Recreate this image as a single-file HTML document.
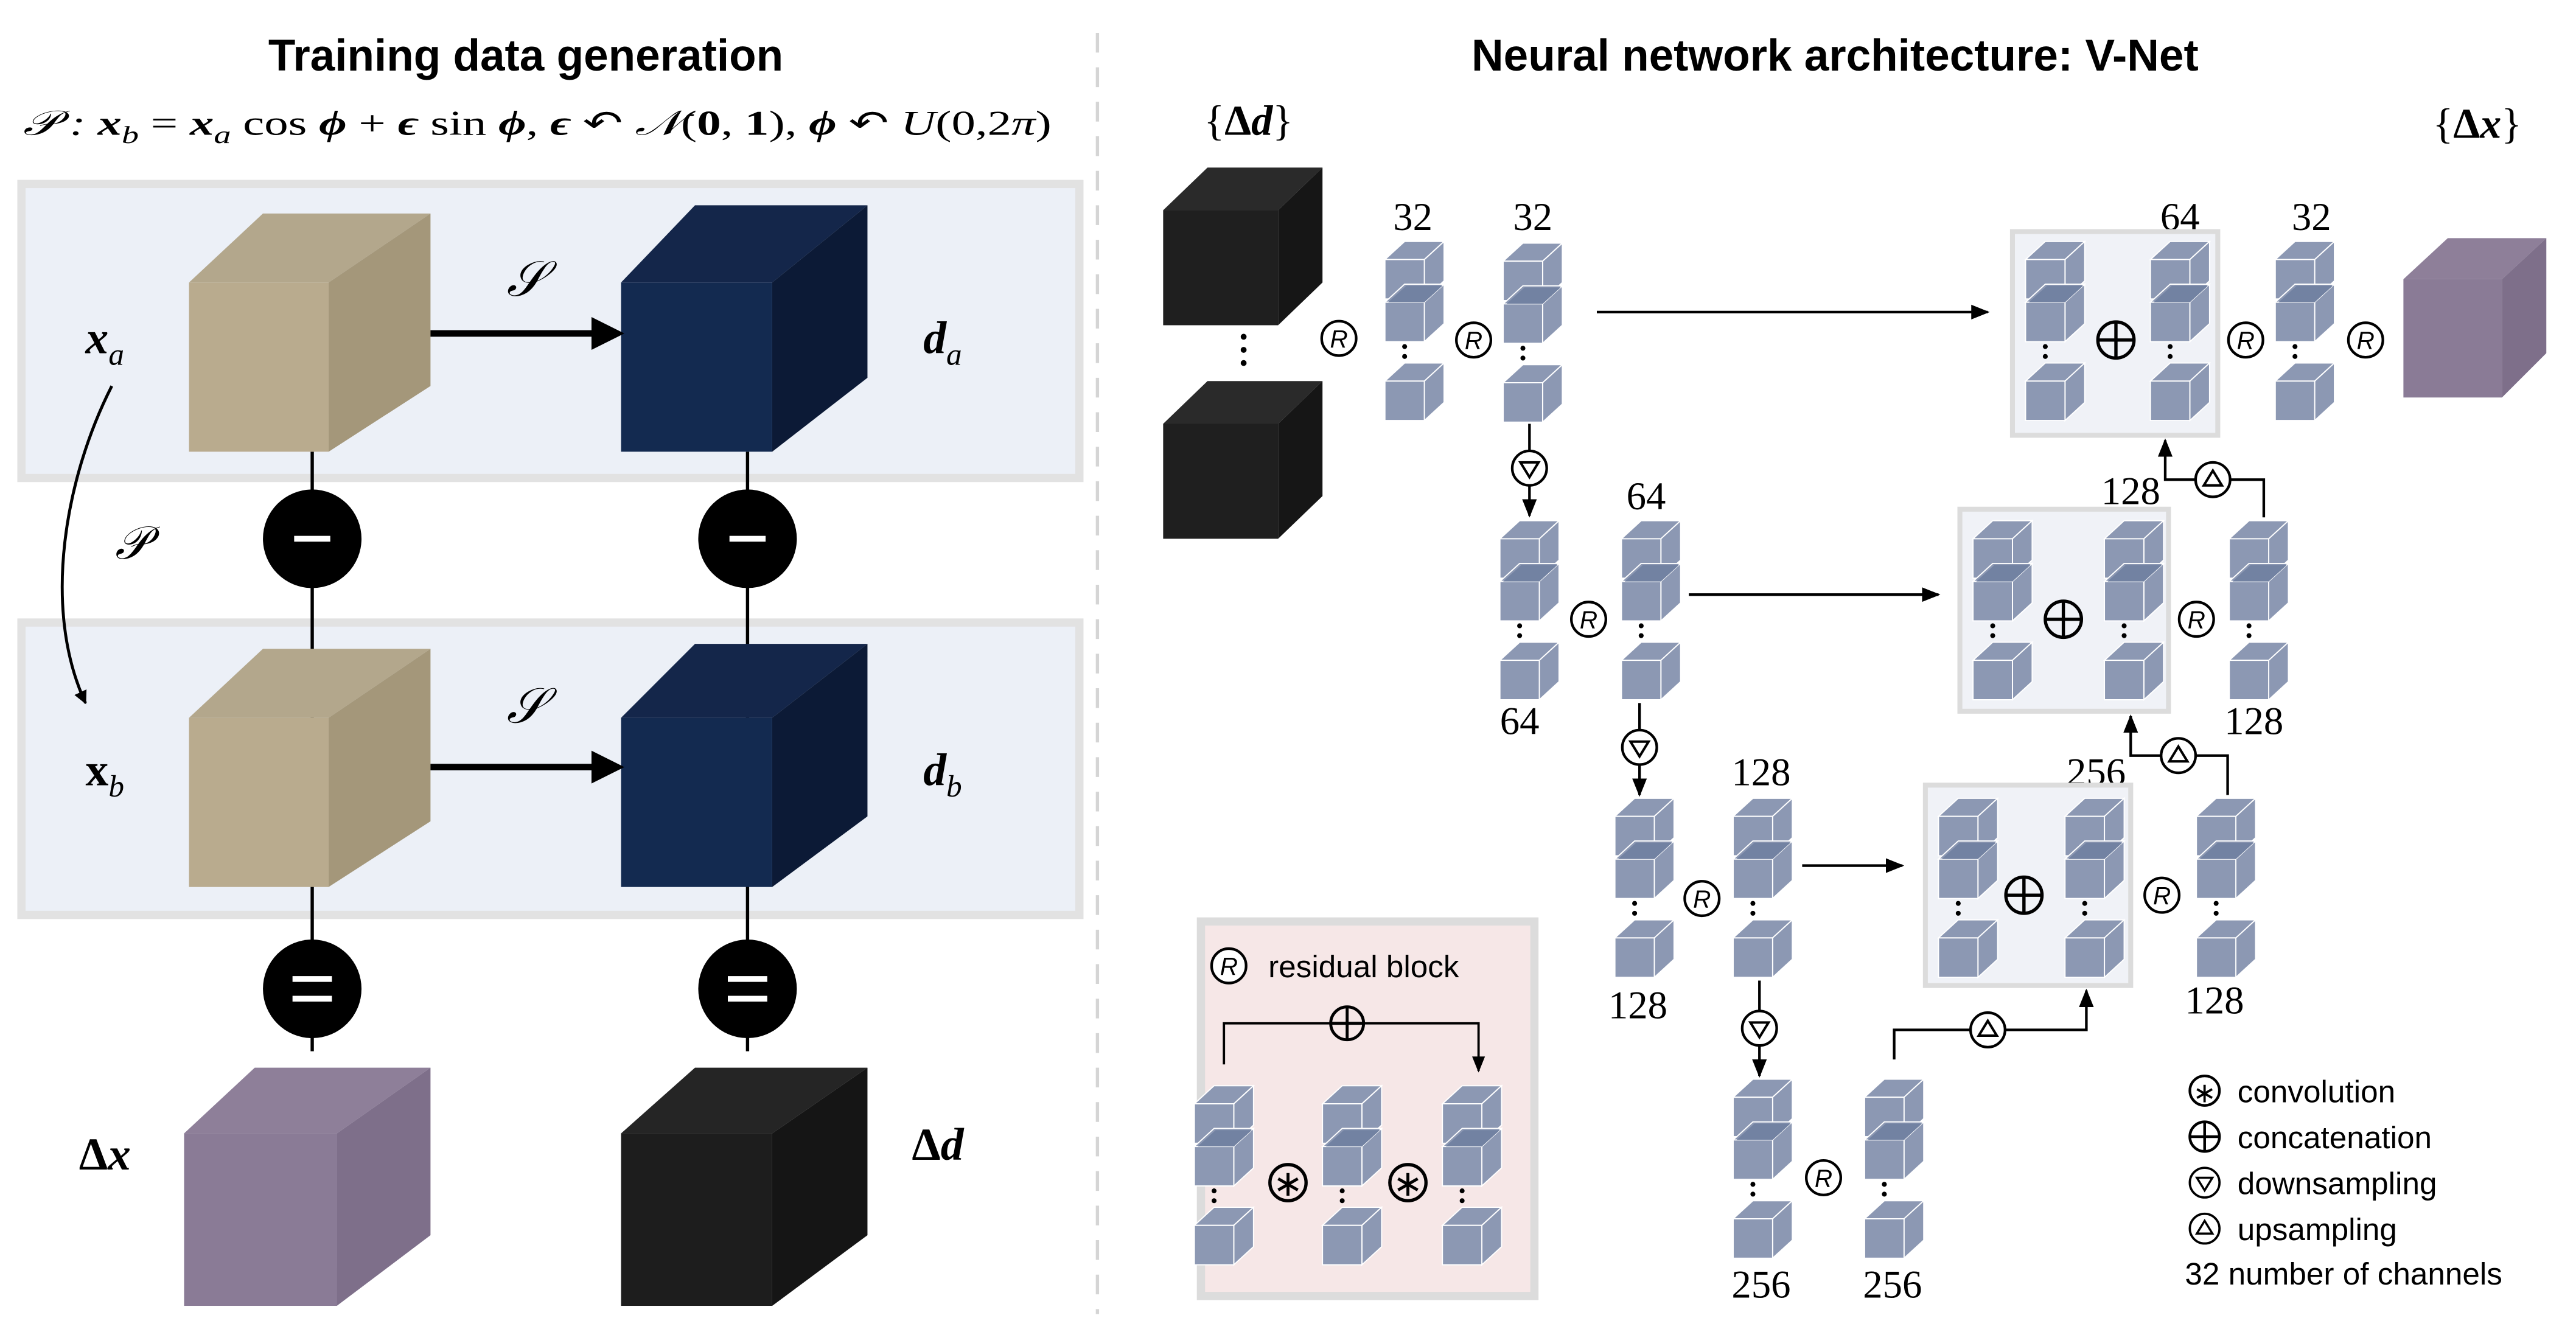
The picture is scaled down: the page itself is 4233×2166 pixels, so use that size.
<!DOCTYPE html>
<html><head><meta charset="utf-8"><style>
html,body{margin:0;padding:0;background:#fff}
svg{display:block}
</style></head><body>
<svg width="4233" height="2166" viewBox="0 0 1568 802.4" xmlns="http://www.w3.org/2000/svg">
<defs>
<g id="c">
<polygon points="0,0 12,-11 36,-11 24,0" fill="#8c98b3" stroke="#fff" stroke-width="0.7"/>
<polygon points="24,0 36,-11 36,13 24,24" fill="#8c98b3" stroke="#fff" stroke-width="0.7"/>
<rect x="0" y="0" width="24" height="24" fill="#8c98b3" stroke="#fff" stroke-width="0.7"/>
</g>
<g id="stk">
<use href="#c" x="0" y="0"/>
<use href="#c" x="0" y="26"/>
<polygon points="2,26 13,16 35,16 24,26" fill="#7282a2"/>
<circle cx="12" cy="53" r="1.5"/><circle cx="12" cy="59" r="1.5"/><circle cx="12" cy="65" r="1.5"/>
<use href="#c" x="0" y="74"/>
</g>
<g id="R"><circle r="10.5" fill="#fff" stroke="#000" stroke-width="1.6"/><text y="5.5" text-anchor="middle" font-family="Liberation Sans, sans-serif" font-style="italic" font-size="15">R</text></g>
<g id="dn"><circle r="10.5" fill="#fff" stroke="#000" stroke-width="1.6"/><polygon points="-5.5,-3.5 5.5,-3.5 0,5.5" fill="none" stroke="#000" stroke-width="1.5"/></g>
<g id="up"><circle r="10.5" fill="#fff" stroke="#000" stroke-width="1.6"/><polygon points="-5.5,3.5 5.5,3.5 0,-5.5" fill="none" stroke="#000" stroke-width="1.5"/></g>
<g id="plus"><circle r="11" fill="none" stroke="#000" stroke-width="2"/><line x1="-11" y1="0" x2="11" y2="0" stroke="#000" stroke-width="2"/><line x1="0" y1="-11" x2="0" y2="11" stroke="#000" stroke-width="2"/></g>
<marker id="ah" viewBox="0 0 10 10" refX="9" refY="5" markerWidth="7" markerHeight="7" orient="auto-start-reverse"><path d="M0,1 L10,5 L0,9 z" fill="#000"/></marker>
<marker id="ahb" viewBox="0 0 10 10" refX="9" refY="5" markerWidth="4.5" markerHeight="4.5" orient="auto"><path d="M0,0 L10,5 L0,10 z" fill="#000"/></marker>
</defs>

<!-- LEFT -->
<text x="320" y="43" text-anchor="middle" font-family="Liberation Sans, sans-serif" font-weight="bold" font-size="27">Training data generation</text>
<text x="14" y="82" font-family="Liberation Serif, serif" font-size="21" textLength="626" lengthAdjust="spacingAndGlyphs"><tspan font-style="italic">𝒫 : </tspan><tspan font-style="italic" font-weight="bold">x</tspan><tspan font-style="italic" font-size="15" dy="5">b</tspan><tspan dy="-5"> = </tspan><tspan font-style="italic" font-weight="bold">x</tspan><tspan font-style="italic" font-size="15" dy="5">a</tspan><tspan dy="-5"> cos </tspan><tspan font-style="italic" font-weight="bold">ϕ</tspan><tspan> + </tspan><tspan font-style="italic" font-weight="bold">ϵ</tspan><tspan> sin </tspan><tspan font-style="italic" font-weight="bold">ϕ</tspan><tspan>,  </tspan><tspan font-style="italic" font-weight="bold">ϵ</tspan><tspan> ↶ </tspan><tspan font-style="italic">𝒩</tspan><tspan>(</tspan><tspan font-weight="bold">0</tspan><tspan>, </tspan><tspan font-weight="bold">1</tspan><tspan>),  </tspan><tspan font-style="italic" font-weight="bold">ϕ</tspan><tspan> ↶ </tspan><tspan font-style="italic">U</tspan><tspan>(0,2</tspan><tspan font-style="italic">π</tspan><tspan>)</tspan></text>

<line x1="668" y1="20" x2="668" y2="800" stroke="#d5d5d5" stroke-width="2" stroke-dasharray="12,9"/>

<rect x="13" y="112" width="644" height="179" fill="#ecf0f7" stroke="#e2e2e2" stroke-width="5"/>
<rect x="13" y="379" width="644" height="178" fill="#ecf0f7" stroke="#e2e2e2" stroke-width="5"/>

<g stroke="#000" stroke-width="2">
<line x1="190" y1="275" x2="190" y2="640"/>
<line x1="455" y1="275" x2="455" y2="640"/>
</g>

<!-- cube xa -->
<g>
<polygon points="115,172 160,130 262,130 200,172" fill="#b3a78c"/>
<polygon points="200,172 262,130 262,235 200,275" fill="#a4977a"/>
<rect x="115" y="172" width="85" height="103" fill="#b9ab8e"/>
</g>
<g>
<polygon points="378,172 423,125 528,125 470,172" fill="#14264a"/>
<polygon points="470,172 528,125 528,230 470,275" fill="#0c1a36"/>
<rect x="378" y="172" width="92" height="103" fill="#132a50"/>
</g>
<line x1="262" y1="203" x2="362" y2="203" stroke="#000" stroke-width="4"/>
<polygon points="360,193 380,203 360,213" fill="#000"/>
<text x="320" y="180" text-anchor="middle" font-family="Liberation Serif, serif" font-style="italic" font-size="30">𝒮</text>
<text x="52" y="215" font-family="Liberation Serif, serif" font-style="italic" font-weight="bold" font-size="28">x<tspan font-size="19" dy="7" font-weight="normal">a</tspan></text>
<text x="562" y="215" font-family="Liberation Serif, serif" font-style="italic" font-weight="bold" font-size="28">d<tspan font-size="19" dy="7" font-weight="normal">a</tspan></text>

<path d="M68,235 C40,290 25,370 52,428" fill="none" stroke="#000" stroke-width="1.8" marker-end="url(#ahb)"/>
<text x="70" y="340" font-family="Liberation Serif, serif" font-style="italic" font-size="28">𝒫</text>

<!-- row b -->
<g>
<polygon points="115,437 160,395 262,395 200,437" fill="#b3a78c"/>
<polygon points="200,437 262,395 262,500 200,540" fill="#a4977a"/>
<rect x="115" y="437" width="85" height="103" fill="#b9ab8e"/>
</g>
<g>
<polygon points="378,437 423,392 528,392 470,437" fill="#14264a"/>
<polygon points="470,437 528,392 528,497 470,540" fill="#0c1a36"/>
<rect x="378" y="437" width="92" height="103" fill="#132a50"/>
</g>
<line x1="262" y1="467" x2="362" y2="467" stroke="#000" stroke-width="4"/>
<polygon points="360,457 380,467 360,477" fill="#000"/>
<text x="320" y="440" text-anchor="middle" font-family="Liberation Serif, serif" font-style="italic" font-size="30">𝒮</text>
<text x="52" y="478" font-family="Liberation Serif, serif" font-weight="bold" font-size="28">x<tspan font-size="19" dy="7" font-weight="normal" font-style="italic">b</tspan></text>
<text x="562" y="478" font-family="Liberation Serif, serif" font-style="italic" font-weight="bold" font-size="28">d<tspan font-size="19" dy="7" font-weight="normal">b</tspan></text>

<!-- operators -->
<g fill="#000"><circle cx="190" cy="328" r="30"/><circle cx="455" cy="328" r="30"/><circle cx="190" cy="602" r="30"/><circle cx="455" cy="602" r="30"/></g>
<g stroke="#fff" stroke-width="3.5">
<line x1="179" y1="328" x2="201" y2="328"/><line x1="444" y1="328" x2="466" y2="328"/>
<line x1="178" y1="596" x2="202" y2="596"/><line x1="178" y1="608" x2="202" y2="608"/>
<line x1="443" y1="596" x2="467" y2="596"/><line x1="443" y1="608" x2="467" y2="608"/>
</g>

<!-- bottom cubes -->
<g>
<polygon points="112,690 155,650 262,650 205,690" fill="#8e7f99"/>
<polygon points="205,690 262,650 262,752 205,795" fill="#7e6f8a"/>
<rect x="112" y="690" width="93" height="105" fill="#8a7b96"/>
</g>
<g>
<polygon points="378,690 423,650 528,650 470,690" fill="#252525"/>
<polygon points="470,690 528,650 528,752 470,795" fill="#151515"/>
<rect x="378" y="690" width="92" height="105" fill="#1d1d1d"/>
</g>
<text x="48" y="712" font-family="Liberation Serif, serif" font-weight="bold" font-size="28">Δ<tspan font-style="italic">x</tspan></text>
<text x="555" y="706" font-family="Liberation Serif, serif" font-weight="bold" font-size="28">Δ<tspan font-style="italic">d</tspan></text>

<!-- RIGHT -->
<text x="1117" y="43" text-anchor="middle" font-family="Liberation Sans, sans-serif" font-weight="bold" font-size="27">Neural network architecture: V-Net</text>
<text x="760" y="82" text-anchor="middle" font-family="Liberation Serif, serif" font-size="26">{<tspan font-weight="bold">Δ</tspan><tspan font-weight="bold" font-style="italic">d</tspan>}</text>
<text x="1508" y="84" text-anchor="middle" font-family="Liberation Serif, serif" font-size="26">{<tspan font-weight="bold">Δ</tspan><tspan font-weight="bold" font-style="italic">x</tspan>}</text>

<g>
<polygon points="708,128 735,102 805,102 778,128" fill="#2a2a2a"/>
<polygon points="778,128 805,102 805,172 778,198" fill="#161616"/>
<rect x="708" y="128" width="70" height="70" fill="#1f1f1f"/>
<polygon points="708,258 735,232 805,232 778,258" fill="#2a2a2a"/>
<polygon points="778,258 805,232 805,302 778,328" fill="#161616"/>
<rect x="708" y="258" width="70" height="70" fill="#1f1f1f"/>
<circle cx="757" cy="205" r="1.8"/><circle cx="757" cy="213" r="1.8"/><circle cx="757" cy="221" r="1.8"/>
</g>

<g font-family="Liberation Serif, serif" font-size="24" text-anchor="middle">
<text x="860" y="140">32</text><text x="933" y="140">32</text>
<text x="1327" y="140">64</text><text x="1407" y="140">32</text>
<text x="1002" y="310">64</text><text x="925" y="447">64</text>
<text x="1297" y="307">128</text><text x="1372" y="447">128</text>
<text x="1072" y="478">128</text><text x="997" y="620">128</text>
<text x="1276" y="478">256</text><text x="1348" y="617">128</text>
<text x="1072" y="790">256</text><text x="1152" y="790">256</text>
</g>

<!-- boxes -->
<rect x="1225" y="141" width="125" height="124" fill="#f0f2f7" stroke="#dcdcdc" stroke-width="3"/>
<rect x="1193" y="310" width="127" height="123" fill="#f0f2f7" stroke="#dcdcdc" stroke-width="3"/>
<rect x="1172" y="478" width="125" height="122" fill="#f0f2f7" stroke="#dcdcdc" stroke-width="3"/>

<!-- level1 -->
<use href="#stk" x="843" y="158"/><use href="#stk" x="915" y="159"/>
<use href="#stk" x="1233" y="158"/><use href="#stk" x="1309" y="158"/>
<use href="#stk" x="1385" y="158"/>
<use href="#R" x="815" y="206"/><use href="#R" x="897" y="207"/>
<use href="#R" x="1367" y="207"/><use href="#R" x="1440" y="207"/>
<use href="#plus" x="1288" y="207"/>
<line x1="972" y1="190" x2="1210" y2="190" stroke="#000" stroke-width="1.6" marker-end="url(#ah)"/>
<g>
<polygon points="1463,170 1490,145 1550,145 1523,170" fill="#8e7f99"/>
<polygon points="1523,170 1550,145 1550,215 1523,242" fill="#7e6f8a"/>
<rect x="1463" y="170" width="60" height="72" fill="#8a7b96"/>
</g>

<!-- down 1 -->
<line x1="931" y1="258" x2="931" y2="274" stroke="#000" stroke-width="1.6"/>
<use href="#dn" x="931" y="285"/>
<line x1="931" y1="296" x2="931" y2="314" stroke="#000" stroke-width="1.6" marker-end="url(#ah)"/>

<!-- level2 -->
<use href="#stk" x="913" y="328"/><use href="#stk" x="987" y="328"/>
<use href="#stk" x="1201" y="328"/><use href="#stk" x="1281" y="328"/>
<use href="#stk" x="1357" y="328"/>
<use href="#R" x="967" y="377"/><use href="#R" x="1337" y="377"/>
<use href="#plus" x="1256" y="377"/>
<line x1="1028" y1="362" x2="1180" y2="362" stroke="#000" stroke-width="1.6" marker-end="url(#ah)"/>
<path d="M1378,315 V292 H1318 V268" fill="none" stroke="#000" stroke-width="1.6" marker-end="url(#ah)"/>
<use href="#up" x="1347" y="292"/>

<line x1="998" y1="428" x2="998" y2="444" stroke="#000" stroke-width="1.6"/>
<use href="#dn" x="998" y="455"/>
<line x1="998" y1="466" x2="998" y2="484" stroke="#000" stroke-width="1.6" marker-end="url(#ah)"/>

<!-- level3 -->
<use href="#stk" x="983" y="497"/><use href="#stk" x="1055" y="497"/>
<use href="#stk" x="1180" y="497"/><use href="#stk" x="1257" y="497"/>
<use href="#stk" x="1337" y="497"/>
<use href="#R" x="1036" y="547"/><use href="#R" x="1316" y="545"/>
<use href="#plus" x="1232" y="545"/>
<line x1="1097" y1="527" x2="1158" y2="527" stroke="#000" stroke-width="1.6" marker-end="url(#ah)"/>
<path d="M1356,484 V460 H1297 V436" fill="none" stroke="#000" stroke-width="1.6" marker-end="url(#ah)"/>
<use href="#up" x="1326" y="460"/>

<line x1="1071" y1="597" x2="1071" y2="615" stroke="#000" stroke-width="1.6"/>
<use href="#dn" x="1071" y="626"/>
<line x1="1071" y1="637" x2="1071" y2="655" stroke="#000" stroke-width="1.6" marker-end="url(#ah)"/>

<!-- level4 -->
<use href="#stk" x="1055" y="668"/><use href="#stk" x="1135" y="668"/>
<use href="#R" x="1110" y="717"/>
<path d="M1153,645 V627 H1270 V603" fill="none" stroke="#000" stroke-width="1.6" marker-end="url(#ah)"/>
<use href="#up" x="1210" y="627"/>

<!-- legend box -->
<rect x="731" y="561" width="203" height="228" fill="#f6e7e7" stroke="#dcdcdc" stroke-width="5"/>
<use href="#R" x="748" y="588"/>
<text x="772" y="595" font-family="Liberation Sans, sans-serif" font-size="19">residual block</text>
<path d="M745,648 V623 H900 V652" fill="none" stroke="#000" stroke-width="1.4" marker-end="url(#ah)"/>
<circle cx="820" cy="623" r="10" fill="#f6e7e7" stroke="#000" stroke-width="1.8"/>
<line x1="810" y1="623" x2="830" y2="623" stroke="#000" stroke-width="1.8"/><line x1="820" y1="613" x2="820" y2="633" stroke="#000" stroke-width="1.8"/>
<use href="#stk" x="727" y="672"/><use href="#stk" x="805" y="672"/><use href="#stk" x="878" y="672"/>
<g font-family="DejaVu Sans, sans-serif" font-size="22" text-anchor="middle">
<circle cx="784" cy="720" r="11" fill="none" stroke="#000" stroke-width="2"/><text x="784" y="728">∗</text>
<circle cx="857" cy="720" r="11" fill="none" stroke="#000" stroke-width="2"/><text x="857" y="728">∗</text>
</g>

<!-- legend list -->
<g font-family="Liberation Sans, sans-serif" font-size="19">
<circle cx="1342" cy="664" r="9" fill="none" stroke="#000" stroke-width="1.6"/><text x="1342" y="671" text-anchor="middle" font-family="DejaVu Sans, sans-serif" font-size="17">∗</text>
<text x="1362" y="671">convolution</text>
<use href="#plus" transform="translate(1342,692) scale(0.82)"/>
<text x="1362" y="699">concatenation</text>
<g transform="translate(1342,720) scale(0.86)"><use href="#dn"/></g>
<text x="1362" y="727">downsampling</text>
<g transform="translate(1342,748) scale(0.86)"><use href="#up"/></g>
<text x="1362" y="755">upsampling</text>
<text x="1330" y="782">32  number of channels</text>
</g>
</svg>
</body></html>
